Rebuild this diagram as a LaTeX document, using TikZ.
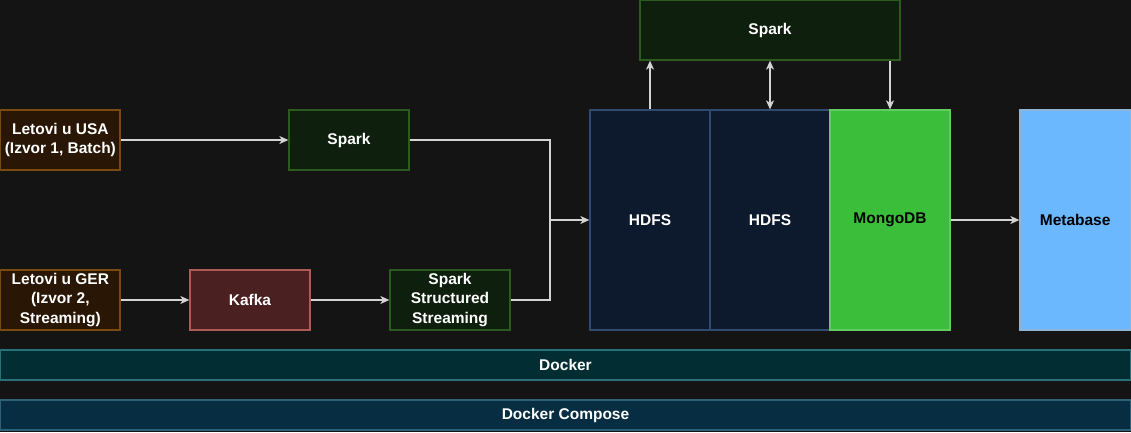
\documentclass[tikz,border=0pt]{standalone}
\usepackage{fontspec}
\setmainfont{Liberation Sans}
\usetikzlibrary{arrows.meta}
\definecolor{bg}{HTML}{141414}
\definecolor{srcfill}{HTML}{2A1604}
\definecolor{srcdraw}{HTML}{7A4A12}
\definecolor{kfill}{HTML}{4A2020}
\definecolor{kdraw}{HTML}{B05A58}
\definecolor{spfill}{HTML}{0F1F0E}
\definecolor{spdraw}{HTML}{2D5A1E}
\definecolor{hfill}{HTML}{0D192C}
\definecolor{hdraw}{HTML}{304A70}
\definecolor{mfill}{HTML}{3BBF3B}
\definecolor{mdraw}{HTML}{62CC62}
\definecolor{mbfill}{HTML}{6BB8FF}
\definecolor{mbdraw}{HTML}{90B4D8}
\definecolor{dfill}{HTML}{022E33}
\definecolor{ddraw}{HTML}{2A7078}
\definecolor{dcfill}{HTML}{062D42}
\definecolor{dcdraw}{HTML}{2F6078}
\definecolor{arr}{HTML}{D4D4D4}
\tikzset{
  box/.style={draw, line width=1.3pt, inner sep=0pt, align=center, text=white,
    font=\fontsize{15.5}{19.5}\selectfont\bfseries},
  conn/.style={draw=arr, line width=1.3pt, -{Stealth[length=9pt,width=8pt,inset=2.5pt]}},
  conn2/.style={draw=arr, line width=1.3pt, {Stealth[length=9pt,width=8pt,inset=2.5pt]}-{Stealth[length=9pt,width=8pt,inset=2.5pt]}},
  plain/.style={draw=arr, line width=1.3pt}
}
\newcommand{\bx}[7]{% name, x1,y1,x2,y2, style, text
  \node[box,#6,minimum width={(#4-#2)*1pt},minimum height={(#5-#3)*1pt}] (#1) at ({(#2+#4)/2},{-(#3+#5)/2}) {#7};}
\begin{document}
\begin{tikzpicture}[x=1pt,y=1pt]
\fill[bg] (0,0) rectangle (1131,-432);
\useasboundingbox (0,0) rectangle (1131,-432);
\bx{usa}{0.7}{110}{120}{170}{fill=srcfill,draw=srcdraw}{Letovi u USA\\(Izvor 1, Batch)}
\bx{ger}{0.7}{270}{120}{330}{fill=srcfill,draw=srcdraw}{Letovi u GER\\(Izvor 2,\\Streaming)}
\bx{kafka}{190}{270}{310}{330}{fill=kfill,draw=kdraw}{Kafka}
\bx{spark1}{289}{110}{409}{170}{fill=spfill,draw=spdraw}{Spark}
\bx{sss}{390}{270}{510}{330}{fill=spfill,draw=spdraw}{Spark\\Structured\\Streaming}
\bx{spark2}{640}{0.7}{900}{60}{fill=spfill,draw=spdraw}{Spark}
\bx{hdfs1}{590}{110}{710}{330}{fill=hfill,draw=hdraw}{HDFS}
\bx{hdfs2}{710}{110}{830}{330}{fill=hfill,draw=hdraw}{HDFS}
\bx{mongo}{830}{110}{950}{330}{fill=mfill,draw=mdraw,text=black}{MongoDB}
\bx{meta}{1020}{110}{1130.3}{330}{fill=mbfill,draw=mbdraw,text=black}{Metabase}
\bx{docker}{0.7}{350}{1130.3}{380}{fill=dfill,draw=ddraw}{Docker}
\bx{compose}{0.7}{400}{1130.3}{430}{fill=dcfill,draw=dcdraw}{Docker Compose}
\coordinate (j) at (550,-220);
\draw[conn] (usa.east) -- (spark1.west);
\draw[conn] (ger.east) -- (kafka.west);
\draw[conn] (kafka.east) -- (sss.west);
\draw[plain] (spark1.east) -| (j);
\draw[plain] (sss.east) -| (j);
\draw[conn] (j) -- (hdfs1.west);
\draw[conn] (hdfs1.north) -- (hdfs1.north |- spark2.south);
\draw[conn2] (hdfs2.north) -- (hdfs2.north |- spark2.south);
\draw[conn] (spark2.south -| mongo.north) -- (mongo.north);
\draw[conn] (mongo.east) -- (meta.west);
\end{tikzpicture}
\end{document}
